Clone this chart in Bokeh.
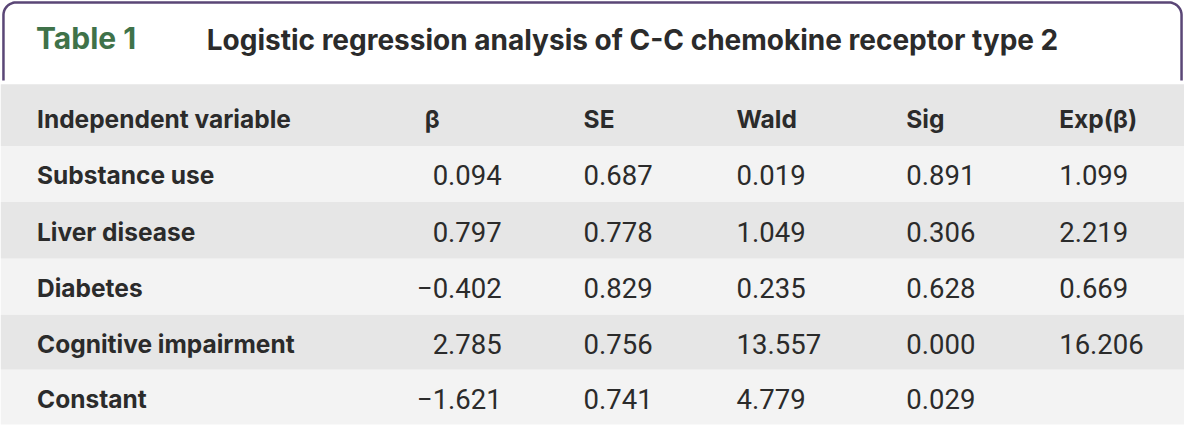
from bokeh.plotting import figure
from bokeh.models import ColumnDataSource, Range1d
from bokeh.core.properties import value
from bokeh.embed import file_html
from bokeh.resources import INLINE
import math

# ---- data ----
table_label = "Table 1"
table_title = "Logistic regression analysis of C-C chemokine receptor type 2"
columns = ["Independent variable", "\u03b2", "SE", "Wald", "Sig", "Exp(\u03b2)"]
variables = ["Substance use", "Liver disease", "Diabetes", "Cognitive impairment", "Constant"]
beta = [0.094, 0.797, -0.402, 2.785, -1.621]
se = [0.687, 0.778, 0.829, 0.756, 0.741]
wald = [0.019, 1.049, 0.235, 13.557, 4.779]
sig = [0.891, 0.306, 0.628, 0.000, 0.029]
exp_beta = [1.099, 2.219, 0.669, 16.206, None]

# ---- layout (styling only) ----
W, H = 1184, 426
FONT = "Inter"
NUMFONT = "Roboto"
TXT = "#2b2b2b"
DARK = "#e6e6e6"
LIGHT = "#f3f3f3"
BORDER = "#5a4676"
GREEN = "#3f7249"

band_edges = [87, 151, 209, 268, 326, 383, 440]
col_x = [37, 430, 591, 746, 918, 1073]
beta_right = 508

p = figure(width=W, height=H, output_backend="svg", toolbar_location=None,
           x_range=Range1d(0, 1200), y_range=Range1d(442, 0),
           min_border=0, outline_line_color=None, background_fill_color="white",
           border_fill_color="white")
p.xaxis.visible = False
p.yaxis.visible = False
p.grid.visible = False

# frame with rounded top corners
r = 13
left, right, top, bot = 3, 1197, 2, 83
xs, ys = [left], [bot]
for k in range(0, 11):
    a = math.pi - k * (math.pi / 2) / 10
    xs.append(left + r + r * math.cos(a)); ys.append(top + r - r * math.sin(a))
for k in range(0, 11):
    a = math.pi / 2 - k * (math.pi / 2) / 10
    xs.append(right - r + r * math.cos(a)); ys.append(top + r - r * math.sin(a))
xs.append(right); ys.append(bot)
p.line(xs, ys, line_color=BORDER, line_width=2.5)

# bands
n_rows = len(variables) + 1
band_src = ColumnDataSource(dict(
    top=band_edges[:-1], bottom=band_edges[1:],
    color=[DARK if i % 2 == 0 else LIGHT for i in range(n_rows)]))
p.quad(left=0, right=1200, top="top", bottom="bottom", fill_color="color",
       line_color=None, source=band_src)

# title
p.text(x=[36], y=[39], text=[table_label], text_font=value(FONT), text_font_style="bold",
       text_font_size="30px", text_color=GREEN, text_baseline="middle")
p.text(x=[209], y=[41], text=[table_title], text_font=value(FONT), text_font_style="bold",
       text_font_size="28px", text_color=TXT, text_baseline="middle")

# header
p.text(x=col_x, y=[122.5] * len(columns), text=columns, text_font=value(FONT),
       text_font_style="bold", text_font_size="24.5px", text_color=TXT,
       text_baseline="middle")

# rows
mid = [(band_edges[i] + band_edges[i + 1]) / 2 + 1.5 for i in range(1, n_rows)]

def fmt(v):
    if v is None:
        return ""
    s = f"{abs(v):.3f}"
    return ("\u2212" + s) if v < 0 else s

p.text(x=[col_x[0]] * len(variables), y=mid, text=variables, text_font=value(FONT),
       text_font_style="bold", text_font_size="24.5px", text_color=TXT,
       text_baseline="middle")
p.text(x=[beta_right] * len(beta), y=mid, text=[fmt(v) for v in beta],
       text_font=value(NUMFONT), text_font_size="27.5px", text_color=TXT,
       text_baseline="middle", text_align="right")
for xi, vals in zip(col_x[2:], [se, wald, sig, exp_beta]):
    p.text(x=[xi] * len(vals), y=mid, text=[fmt(v) for v in vals],
           text_font=value(NUMFONT), text_font_size="27.5px", text_color=TXT,
           text_baseline="middle")

open("out.html", "w").write(file_html(p, INLINE))
